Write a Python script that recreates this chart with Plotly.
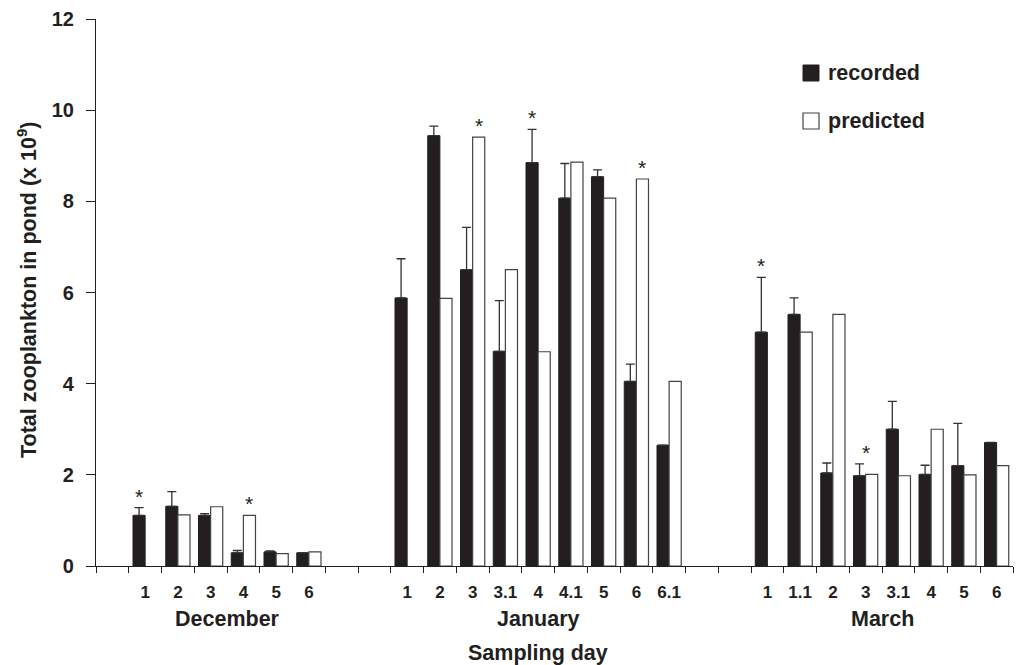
import plotly.graph_objects as go

# ---------------- data ----------------
months = ["December", "January", "March"]
dec_days = ["1", "2", "3", "4", "5", "6"]
jan_days = ["1", "2", "3", "3.1", "4", "4.1", "5", "6", "6.1"]
mar_days = ["1", "1.1", "2", "3", "3.1", "4", "5", "6"]

dec_recorded = [1.11, 1.31, 1.11, 0.29, 0.31, 0.29]
dec_error = [0.17, 0.32, 0.04, 0.05, 0.02, 0.0]
dec_predicted = [None, 1.12, 1.30, 1.11, 0.27, 0.31]

jan_recorded = [5.88, 9.44, 6.50, 4.71, 8.85, 8.07, 8.54, 4.05, 2.65]
jan_error = [0.86, 0.21, 0.93, 1.11, 0.73, 0.76, 0.15, 0.38, 0.0]
jan_predicted = [None, 5.87, 9.41, 6.50, 4.70, 8.86, 8.07, 8.49, 4.05]

mar_recorded = [5.13, 5.52, 2.04, 1.98, 3.00, 2.01, 2.20, 2.71]
mar_error = [1.20, 0.36, 0.22, 0.26, 0.61, 0.20, 0.93, 0.0]
mar_predicted = [None, 5.13, 5.52, 2.01, 1.98, 3.00, 2.00, 2.20]

# significance asterisks: (month, day, over which bar)
stars = [("December", "1", "recorded"), ("December", "4", "predicted"),
         ("January", "3", "predicted"), ("January", "4", "recorded"),
         ("January", "6", "predicted"), ("March", "1", "recorded"),
         ("March", "3", "both")]

y_ticks = [0, 2, 4, 6, 8, 10, 12]

# ---------------- layout of category slots ----------------
day_lists = [dec_days, jan_days, mar_days]
rec_lists = [dec_recorded, jan_recorded, mar_recorded]
err_lists = [dec_error, jan_error, mar_error]
pred_lists = [dec_predicted, jan_predicted, mar_predicted]

LEAD = 1   # empty slot before first month
GAP = 2    # empty slots between months

xs, labels, rec, err, pred = [], [], [], [], []
month_centres = []
lookup = {}
slot = LEAD
for m, days, r, e, p in zip(months, day_lists, rec_lists, err_lists, pred_lists):
    start = slot
    for d, rv, ev, pv in zip(days, r, e, p):
        x = slot + 0.5
        xs.append(x)
        labels.append(d)
        rec.append(rv)
        err.append(ev)
        pred.append(pv)
        lookup[(m, d)] = (x, rv, ev, pv)
        slot += 1
    month_centres.append((start + slot) / 2)
    slot += GAP
n_slots = slot - GAP

INK = "#231f20"
FONT = "Liberation Sans, Arial, Helvetica, sans-serif"
BIG = 21.5

fig = go.Figure()
fig.add_trace(go.Bar(
    x=xs, y=rec, name="recorded",
    marker=dict(color=INK, line=dict(color=INK, width=1)),
    error_y=dict(type="data", symmetric=False, array=err,
                 arrayminus=[0] * len(err), color="#333333",
                 thickness=1.3, width=4.5),
    showlegend=False,
))
fig.add_trace(go.Bar(
    x=xs, y=pred, name="predicted",
    marker=dict(color="white", line=dict(color="#444444", width=1.2)),
    showlegend=False,
))

BARGAP = 0.26
bar_w = (1 - BARGAP) / 2

annotations = []
# asterisks
for m, d, which in stars:
    x, rv, ev, pv = lookup[(m, d)]
    if which == "recorded":
        xa, ya = x - bar_w / 2, rv + ev
    elif which == "predicted":
        xa, ya = x + bar_w / 2, pv
    else:
        xa, ya = x, max(rv + ev, pv or 0)
    annotations.append(dict(x=xa, y=ya, xref="x", yref="y", text="*",
                            showarrow=False, yanchor="bottom", yshift=-2,
                            font=dict(size=21, color=INK, family=FONT)))

# month labels
for m, c in zip(months, month_centres):
    annotations.append(dict(x=c, y=0, xref="x", yref="paper", text=m,
                            showarrow=False, yanchor="middle", yshift=-53,
                            font=dict(size=BIG, color=INK, family=FONT, weight="bold")))
# x-axis title
annotations.append(dict(x=month_centres[1], y=0, xref="x", yref="paper",
                        text="Sampling day", showarrow=False, yanchor="middle",
                        yshift=-87,
                        font=dict(size=BIG, color=INK, family=FONT, weight="bold")))
# y-axis title
annotations.append(dict(x=-0.075, y=0.505, xref="paper", yref="paper",
                        text="Total zooplankton in pond (x 10<sup>9</sup>)",
                        textangle=-90, showarrow=False, xanchor="center",
                        yanchor="middle",
                        font=dict(size=BIG, color=INK, family=FONT, weight="bold")))

# legend (manual)
L, R, T, B = 96, 4, 19, 99
W = 1017 - L - R
H = 665 - T - B

def px(xp):
    return (xp - L) / W

def py(yp):
    return (665 - B - yp) / H

shapes = [
    dict(type="rect", xref="paper", yref="paper",
         x0=px(803), x1=px(819), y0=py(81), y1=py(65),
         fillcolor=INK, line=dict(color=INK, width=1)),
    dict(type="rect", xref="paper", yref="paper",
         x0=px(803), x1=px(819), y0=py(129), y1=py(113),
         fillcolor="white", line=dict(color="#444444", width=1.2)),
]
annotations.append(dict(x=px(826), y=py(73), xref="paper", yref="paper",
                        text="recorded", showarrow=False, xanchor="left",
                        yanchor="middle",
                        font=dict(size=BIG, color=INK, family=FONT, weight="bold")))
annotations.append(dict(x=px(826), y=py(121), xref="paper", yref="paper",
                        text="predicted", showarrow=False, xanchor="left",
                        yanchor="middle",
                        font=dict(size=BIG, color=INK, family=FONT, weight="bold")))

fig.update_layout(
    width=1017, height=665,
    margin=dict(l=L, r=R, t=T, b=B, pad=0),
    paper_bgcolor="white", plot_bgcolor="white",
    barmode="group", bargap=BARGAP, bargroupgap=0,
    font=dict(family=FONT, color=INK),
    annotations=annotations, shapes=shapes,
    showlegend=False,
)
fig.update_xaxes(
    range=[0, n_slots], showgrid=False, zeroline=False,
    showline=True, linecolor=INK, linewidth=1.2,
    tickmode="array", tickvals=xs, ticktext=labels, ticks="",
    ticklabelstandoff=10,
    tickfont=dict(size=17, color=INK, family=FONT, weight="bold"),
    minor=dict(tickmode="array", tickvals=list(range(n_slots + 1)),
               ticks="outside", ticklen=6, tickwidth=1.2, tickcolor=INK,
               showgrid=False),
)
fig.update_yaxes(
    range=[0, 12], tickmode="array", tickvals=y_ticks,
    showgrid=False, zeroline=False,
    showline=True, linecolor=INK, linewidth=1.2,
    ticks="outside", ticklen=9, tickwidth=1.2, tickcolor=INK,
    ticklabelstandoff=8,
    tickfont=dict(size=20, color=INK, family=FONT, weight="bold"),
)

fig.write_html("out.html")
